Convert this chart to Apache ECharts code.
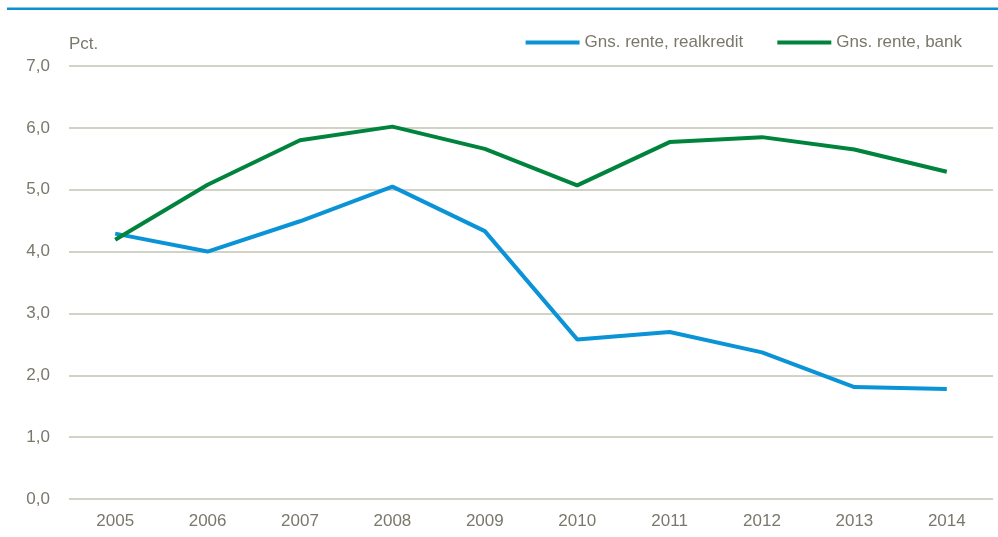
<!DOCTYPE html>
<html>
<head>
<meta charset="utf-8">
<script src="https://cdn.jsdelivr.net/npm/echarts@6/dist/echarts.min.js"></script>
<style>
  html, body { margin: 0; padding: 0; background: #fff; }
  #chart { width: 998px; height: 537px; }
</style>
</head>
<body>
<div id="chart"></div>
<script>
const years = ["2005", "2006", "2007", "2008", "2009", "2010", "2011", "2012", "2013", "2014"];
const realkredit = [4.29, 4.0, 4.49, 5.05, 4.33, 2.58, 2.7, 2.37, 1.81, 1.78];
const bank = [4.19, 5.08, 5.8, 6.02, 5.66, 5.07, 5.77, 5.85, 5.65, 5.29];

const FONT = "'Liberation Sans', sans-serif";
const TEXT = "#7a776b";

const chart = echarts.init(document.getElementById("chart"));
chart.setOption({
  animation: false,
  textStyle: { fontFamily: FONT },
  graphic: [
    {
      type: "rect",
      shape: { x: 7, y: 7.5, width: 991, height: 2.5 },
      style: { fill: "#0a8fd0" },
    },
  ],
  legend: {
    top: 29,
    right: 31,
    itemWidth: 54,
    itemHeight: 4,
    itemGap: 34,
    icon: "rect",
    textStyle: { color: TEXT, fontSize: 17, fontFamily: FONT },
    data: ["Gns. rente, realkredit", "Gns. rente, bank"],
  },
  grid: {
    left: 69,
    right: 5,
    top: 66,
    bottom: 38,
  },
  xAxis: {
    type: "category",
    data: years,
    boundaryGap: true,
    axisLine: { show: false },
    axisTick: { show: false },
    axisLabel: { color: TEXT, fontSize: 17, fontFamily: FONT, margin: 14 },
  },
  yAxis: {
    type: "value",
    min: 0,
    max: 7,
    interval: 1,
    name: "Pct.",
    nameLocation: "end",
    nameGap: 13,
    nameTextStyle: { color: TEXT, fontSize: 17, fontFamily: FONT, align: "left" },
    axisLine: { show: false },
    axisTick: { show: false },
    axisLabel: {
      color: TEXT,
      fontSize: 17,
      fontFamily: FONT,
      margin: 19,
      formatter: (v) => v.toFixed(1).replace(".", ","),
    },
    splitLine: { lineStyle: { color: "#c5c3b5", width: 1.5 } },
  },
  series: [
    {
      name: "Gns. rente, realkredit",
      type: "line",
      data: realkredit,
      symbol: "none",
      lineStyle: { color: "#0a93d6", width: 4 },
      itemStyle: { color: "#0a93d6" },
    },
    {
      name: "Gns. rente, bank",
      type: "line",
      data: bank,
      symbol: "none",
      lineStyle: { color: "#00843d", width: 4 },
      itemStyle: { color: "#00843d" },
    },
  ],
});
</script>
</body>
</html>
